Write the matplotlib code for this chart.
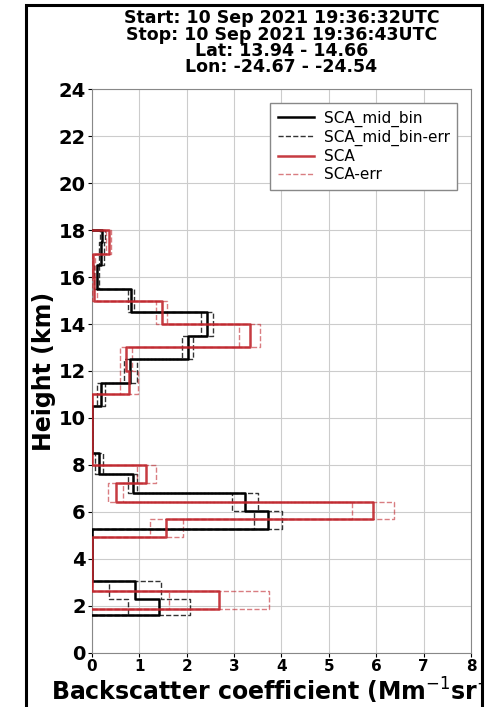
import numpy as np
import matplotlib.pyplot as plt
from matplotlib.patches import Rectangle

# SCA (normal bins)
sca_bottom = [1.87, 4.94, 5.70, 6.43, 7.23, 11.0, 12.0, 13.0, 14.0, 15.0, 16.0, 17.0]
sca_top = [2.64, 5.70, 6.43, 7.23, 8.00, 12.0, 13.0, 14.0, 15.0, 16.0, 17.0, 18.0]
sca = [2.68, 1.57, 5.93, 0.50, 1.15, 0.78, 0.72, 3.33, 1.47, 0.05, 0.03, 0.35]
sca_err = [1.05, 0.35, 0.45, 0.16, 0.21, 0.19, 0.12, 0.22, 0.11, 0.05, 0.04, 0.05]

# SCA mid bin
mid_bottom = [1.62, 2.30, 5.28, 6.04, 6.80, 7.60, 10.5, 11.5, 12.5, 13.5, 14.5, 15.5, 16.5, 17.5]
mid_top = [2.30, 3.06, 6.04, 6.80, 7.60, 8.50, 11.5, 12.5, 13.5, 14.5, 15.5, 16.5, 17.5, 18.0]
mid = [1.41, 0.91, 3.72, 3.23, 0.86, 0.15, 0.19, 0.81, 2.02, 2.43, 0.82, 0.10, 0.20, 0.22]
mid_err = [0.65, 0.55, 0.30, 0.28, 0.10, 0.08, 0.09, 0.13, 0.12, 0.12, 0.06, 0.05, 0.05, 0.06]

title_lines = ['Start: 10 Sep 2021 19:36:32UTC',
               'Stop: 10 Sep 2021 19:36:43UTC',
               'Lat: 13.94 - 14.66',
               'Lon: -24.67 - -24.54']


def step_profile(bottom, top, vals):
    # profile goes back to 0 between layers
    xs, ys = [], []
    prev_top = None
    for b, t, v in zip(bottom, top, vals):
        if prev_top is None or abs(b - prev_top) > 1e-6:
            if prev_top is not None:
                xs.append(0)
                ys.append(prev_top)
            xs += [0, v]
            ys += [b, b]
        else:
            xs.append(v)
            ys.append(b)
        xs.append(v)
        ys.append(t)
        prev_top = t
    xs.append(0)
    ys.append(prev_top)
    return xs, ys


fig = plt.figure(figsize=(5.01, 7.07), dpi=100)
ax = fig.add_axes([0.1836, 0.0764, 0.7565, 0.7977])

mid_a = np.array(mid)
mid_e = np.array(mid_err)
sca_a = np.array(sca)
sca_e = np.array(sca_err)

x, y = step_profile(mid_bottom, mid_top, mid_a)
ax.plot(x, y, color='k', lw=1.8, label='SCA_mid_bin', zorder=4)
x, y = step_profile(mid_bottom, mid_top, mid_a + mid_e)
ax.plot(x, y, color='k', lw=1, ls='--', alpha=0.8, label='SCA_mid_bin-err', zorder=3)
x, y = step_profile(mid_bottom, mid_top, np.clip(mid_a - mid_e, 0, None))
ax.plot(x, y, color='k', lw=1, ls='--', alpha=0.8, zorder=3)

x, y = step_profile(sca_bottom, sca_top, sca_a)
ax.plot(x, y, color='#c0262d', lw=1.8, alpha=0.9, label='SCA', zorder=4)
x, y = step_profile(sca_bottom, sca_top, sca_a + sca_e)
ax.plot(x, y, color='#c0262d', lw=1, ls='--', alpha=0.6, label='SCA-err', zorder=3)
x, y = step_profile(sca_bottom, sca_top, np.clip(sca_a - sca_e, 0, None))
ax.plot(x, y, color='#c0262d', lw=1, ls='--', alpha=0.6, zorder=3)

ax.set_xlim(0, 8)
ax.set_ylim(0, 24)
ax.set_xticks(range(0, 9))
ax.set_yticks(range(0, 25, 2))
ax.grid(True, color='#cccccc', lw=0.8)
ax.tick_params(axis='x', labelsize=11, pad=1.5, length=3)
ax.tick_params(axis='y', labelsize=14, pad=1.5, length=3)
for lbl in ax.get_xticklabels() + ax.get_yticklabels():
    lbl.set_fontweight('bold')
for s in ax.spines.values():
    s.set_color('#888888')

ax.set_xlabel(r'Backscatter coefficient (Mm$^{-1}$sr$^{-1}$)', fontsize=17, fontweight='bold', labelpad=1)
ax.set_ylabel('Height (km)', fontsize=17, fontweight='bold', labelpad=2)
ax.set_title('\n'.join(title_lines), fontsize=12.5, fontweight='bold', linespacing=0.88, pad=12)
ax.legend(loc='upper right', fontsize=11, framealpha=1, edgecolor='#888888', fancybox=False,
          handlelength=2.4, handletextpad=0.6, borderaxespad=0.9, borderpad=0.5, labelspacing=0.2)

# screenshot frame
W, H = 501, 707
fig.add_artist(Rectangle((483 / W, 0), 18 / W, 1, transform=fig.transFigure,
                         facecolor='white', edgecolor='none', zorder=20))
fig.add_artist(Rectangle((26 / W, -0.05), (482 - 26) / W, 1 - 5 / H + 0.05, transform=fig.transFigure,
                         facecolor='none', edgecolor='black', lw=2.2, zorder=21))

fig.savefig('out.png', dpi=100)
